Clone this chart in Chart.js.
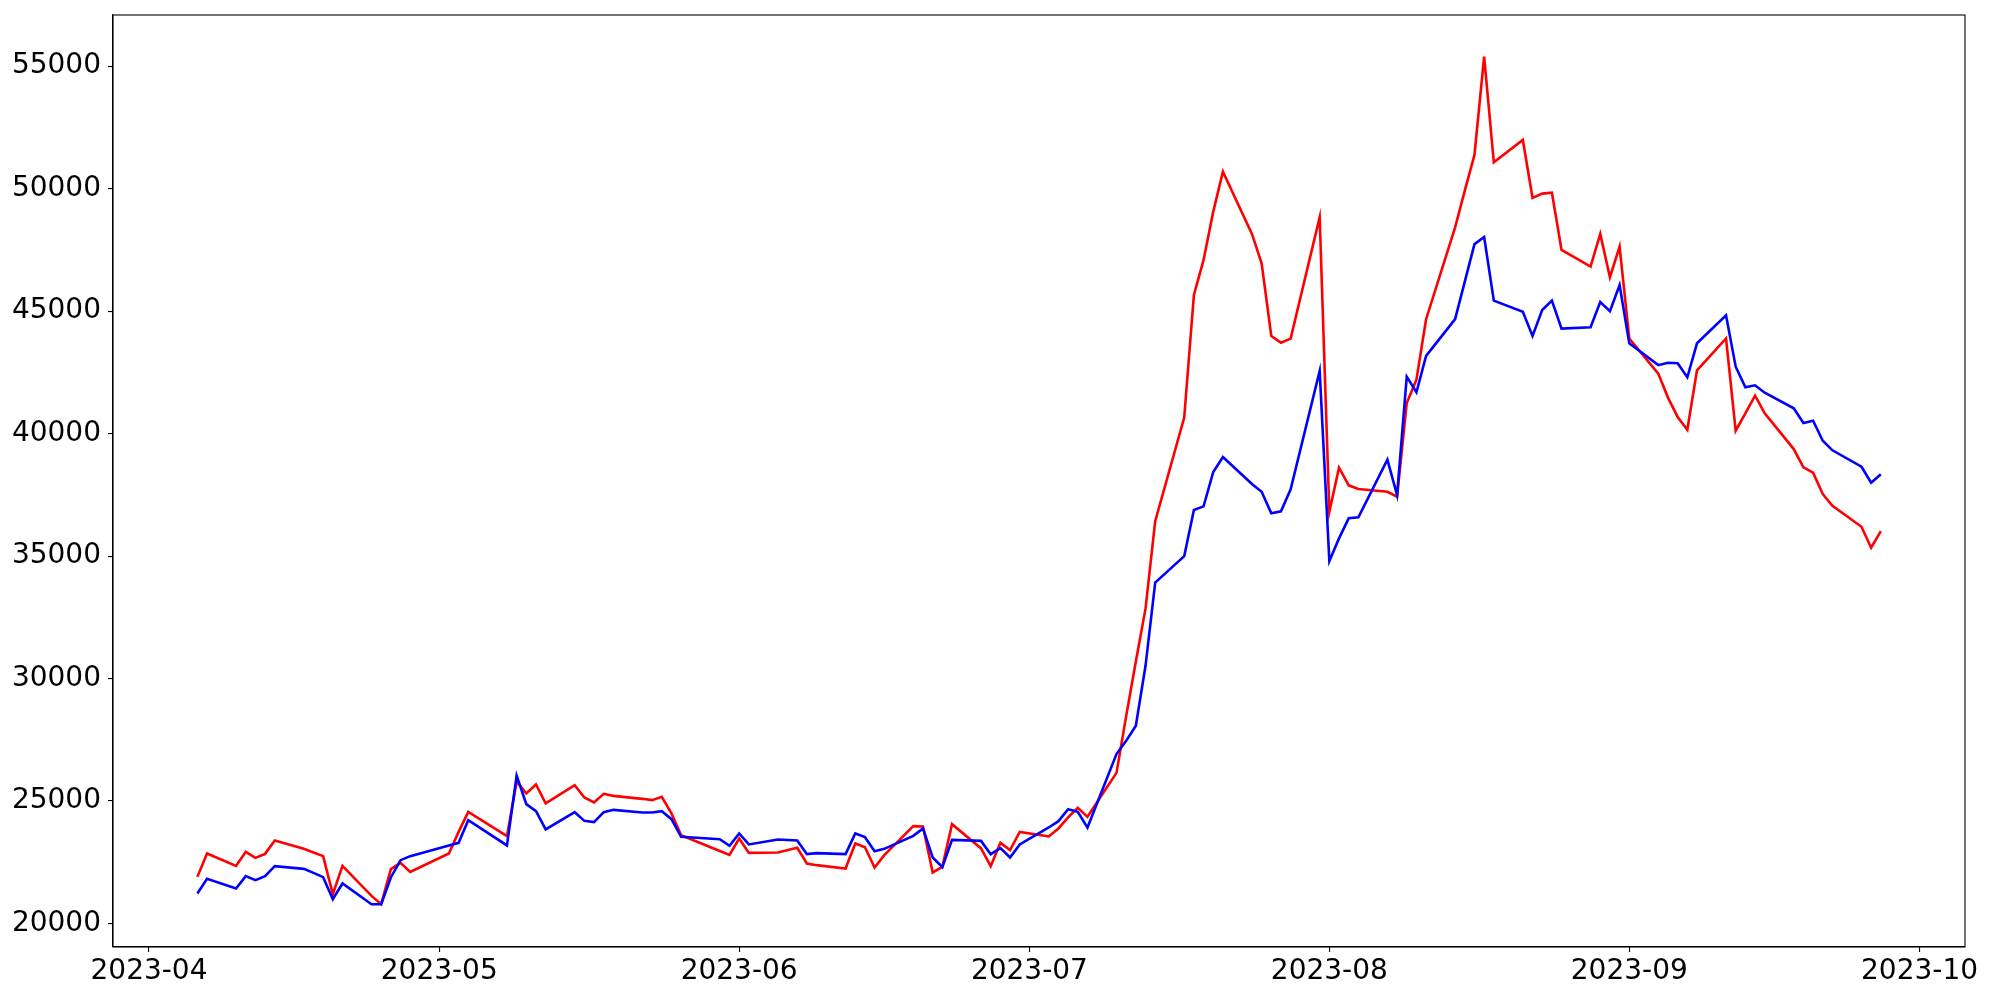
<!DOCTYPE html>
<html>
<head>
<meta charset="utf-8">
<script src="https://cdn.jsdelivr.net/npm/chart.js@4.4.0/dist/chart.umd.min.js"></script>
<style>
  body { margin: 0; background: #fff; }
  canvas { display: block; }
</style>
</head>
<body>
<canvas id="myChart" width="2000" height="1000"></canvas>
<script>
// trading days
const dates = [
  '2023-04-06', '2023-04-07', '2023-04-10', '2023-04-11', '2023-04-12', '2023-04-13', '2023-04-14',
  '2023-04-17', '2023-04-18', '2023-04-19', '2023-04-20', '2023-04-21', '2023-04-24', '2023-04-25',
  '2023-04-26', '2023-04-27', '2023-04-28', '2023-05-02', '2023-05-03', '2023-05-04', '2023-05-08',
  '2023-05-09', '2023-05-10', '2023-05-11', '2023-05-12', '2023-05-15', '2023-05-16', '2023-05-17',
  '2023-05-18', '2023-05-19', '2023-05-22', '2023-05-23', '2023-05-24', '2023-05-25', '2023-05-26',
  '2023-05-30', '2023-05-31', '2023-06-01', '2023-06-02', '2023-06-05', '2023-06-07', '2023-06-08',
  '2023-06-09', '2023-06-12', '2023-06-13', '2023-06-14', '2023-06-15', '2023-06-16', '2023-06-19',
  '2023-06-20', '2023-06-21', '2023-06-22', '2023-06-23', '2023-06-26', '2023-06-27', '2023-06-28',
  '2023-06-29', '2023-06-30', '2023-07-03', '2023-07-04', '2023-07-05', '2023-07-06', '2023-07-07',
  '2023-07-10', '2023-07-11', '2023-07-12', '2023-07-13', '2023-07-14', '2023-07-17', '2023-07-18',
  '2023-07-19', '2023-07-20', '2023-07-21', '2023-07-24', '2023-07-25', '2023-07-26', '2023-07-27',
  '2023-07-28', '2023-07-31', '2023-08-01', '2023-08-02', '2023-08-03', '2023-08-04', '2023-08-07',
  '2023-08-08', '2023-08-09', '2023-08-10', '2023-08-11', '2023-08-14', '2023-08-15', '2023-08-16',
  '2023-08-17', '2023-08-18', '2023-08-21', '2023-08-22', '2023-08-23', '2023-08-24', '2023-08-25',
  '2023-08-28', '2023-08-29', '2023-08-30', '2023-08-31', '2023-09-01', '2023-09-04', '2023-09-05',
  '2023-09-06', '2023-09-07', '2023-09-08', '2023-09-11', '2023-09-12', '2023-09-13', '2023-09-14',
  '2023-09-15', '2023-09-18', '2023-09-19', '2023-09-20', '2023-09-21', '2023-09-22', '2023-09-25',
  '2023-09-26', '2023-09-27'
];

const redValues = [
  21903, 22859, 22352, 22924, 22679, 22843, 23390,
  23047, 22900, 22749, 21197, 22352, 21127, 20788,
  22218, 22475, 22107, 22859, 23741, 24558, 23565,
  25800, 25309, 25677, 24900, 25648, 25146, 24942,
  25293, 25211, 25089, 25036, 25170, 24492, 23606,
  22960, 22802, 23471, 22883, 22900, 23090, 22450,
  22381, 22246, 23267, 23116, 22287, 22789, 23973,
  23961, 22083, 22312, 24055, 23063, 22340, 23292,
  22994, 23741, 23553, 23880, 24329, 24721, 24354,
  26150, 28466, 30696, 32853, 36426, 40657, 45660,
  47090, 49062, 50695, 48151, 46954, 43985, 43712,
  43876, 48833, 36810, 38607, 37888, 37737, 37627,
  37422, 41250, 42200, 44670, 48420, 49920, 51377,
  55393, 51078, 51990, 49622, 49798, 49839, 47500,
  46817, 48151, 46383, 47633, 43880, 42450, 41470,
  40680, 40160, 42580, 43885, 40118, 40827, 41548,
  40827, 39369, 38622, 38403, 37533, 37056, 36198,
  35340, 36022
];

const blueValues = [
  21225, 21822, 21429, 21932, 21768, 21932, 22340,
  22230, 22067, 21891, 20992, 21634, 20788, 20788,
  21879, 22585, 22749, 23186, 23292, 24219, 23186,
  26040, 24872, 24586, 23838, 24545, 24190, 24137,
  24545, 24640, 24533, 24533, 24586, 24260, 23537,
  23443, 23170, 23676, 23226, 23431, 23390, 22830,
  22871, 22830, 23676, 23525, 22953, 23047, 23578,
  23880, 22695, 22300, 23414, 23373, 22830, 23075,
  22695, 23226, 23920, 24178, 24668, 24558, 23915,
  26916, 27457, 28070, 30520, 33918, 34996, 36879,
  37030, 38435, 39045, 37940, 37625, 36747, 36830,
  37725, 42556, 34800, 35723, 36541, 36582, 38940,
  37490, 42324, 41686, 43175, 44673, 46203, 47736,
  48028, 45427, 44978, 43985, 45047, 45427, 44284,
  44341, 45374, 44994, 46068, 43687, 42795, 42895,
  42871, 42299, 43687, 44831, 42732, 41890, 41972,
  41670, 41033, 40433, 40527, 39710, 39318, 38648,
  37994, 38337
];

const monthStarts = ['2023-04-01', '2023-05-01', '2023-06-01', '2023-07-01', '2023-08-01', '2023-09-01', '2023-10-01'];
const xTickLabels = ['2023-04', '2023-05', '2023-06', '2023-07', '2023-08', '2023-09', '2023-10'];
const yTicks = [20000, 25000, 30000, 35000, 40000, 45000, 50000, 55000];

// days since 2023-04-01 (no date adapter available, so the x axis is linear)
function dayNum(s) {
  const p = s.split('-').map(Number);
  return (Date.UTC(p[0], p[1] - 1, p[2]) - Date.UTC(2023, 3, 1)) / 86400000;
}

const tickFont = { family: 'DejaVu Sans', size: 28 };

const frame = {
  id: 'frame',
  afterDraw(chart) {
    const a = chart.chartArea;
    const c = chart.ctx;
    c.save();
    c.strokeStyle = '#000';
    c.lineWidth = 1.1;
    c.strokeRect(a.left, a.top, a.right - a.left, a.bottom - a.top);
    c.restore();
  }
};

var ctx = document.getElementById('myChart');
new Chart(ctx, {
  type: 'line',
  data: {
    datasets: [
      {
        label: 'red',
        data: dates.map((d, i) => ({ x: dayNum(d), y: redValues[i] })),
        borderColor: '#ff0000',
        borderWidth: 2.6,
        pointRadius: 0,
        tension: 0,
        fill: false,
        order: 1
      },
      {
        label: 'blue',
        data: dates.map((d, i) => ({ x: dayNum(d), y: blueValues[i] })),
        borderColor: '#0000ff',
        borderWidth: 2.6,
        pointRadius: 0,
        tension: 0,
        fill: false,
        order: 0
      }
    ]
  },
  options: {
    responsive: false,
    animation: false,
    layout: { padding: { top: 15, right: 35, left: 0, bottom: 0 } },
    plugins: { legend: { display: false }, tooltip: { enabled: false } },
    scales: {
      x: {
        type: 'linear',
        min: -3.72,
        max: 187.7,
        afterBuildTicks: s => { s.ticks = monthStarts.map(m => ({ value: dayNum(m) })); },
        afterFit: s => { s.height = 53; s.paddingLeft = 0; s.paddingRight = 0; },
        ticks: {
          callback: (v, i) => xTickLabels[i],
          font: tickFont,
          color: '#000',
          padding: 3,
          maxRotation: 0,
          autoSkip: false
        },
        grid: { drawOnChartArea: false, tickLength: 5, color: '#000', lineWidth: 1.1 },
        border: { color: '#000', width: 1.1 }
      },
      y: {
        min: 19040,
        max: 57090,
        afterBuildTicks: s => { s.ticks = yTicks.map(v => ({ value: v })); },
        afterFit: s => { s.width = 113; s.paddingTop = 0; s.paddingBottom = 0; },
        ticks: {
          callback: v => String(v),
          font: tickFont,
          color: '#000',
          padding: 7
        },
        grid: { drawOnChartArea: false, tickLength: 5, color: '#000', lineWidth: 1.1 },
        border: { color: '#000', width: 1.1 }
      }
    }
  },
  plugins: [frame]
});
</script>
</body>
</html>
